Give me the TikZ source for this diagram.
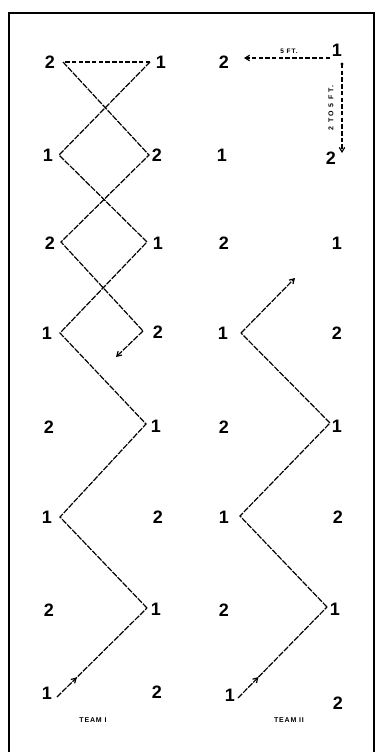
\documentclass[tikz,border=0pt]{standalone}
\usepackage{fontspec}
\setmainfont{Liberation Sans}
\usetikzlibrary{arrows.meta,decorations.markings}
\begin{document}
\begin{tikzpicture}[x=1pt,y=-1pt,
  num/.style={font=\fontsize{18}{18}\selectfont\bfseries,inner sep=0pt},
  run/.style={line width=1.2pt,dash pattern=on 6pt off 1.3pt},
  dash line/.style={line width=1.2pt,dash pattern=on 4.5pt off 2.2pt},
  tip/.style={-{Straight Barb[length=4.5pt,width=5.5pt]}},
  small/.style={font=\fontsize{6.5}{6.5}\selectfont\bfseries\addfontfeature{LetterSpace=15},inner sep=0pt},
  vsmall/.style={font=\fontsize{7}{7}\selectfont\bfseries\addfontfeature{LetterSpace=30},inner sep=0pt},
  teamlbl/.style={font=\fontsize{7}{7}\selectfont\bfseries\addfontfeature{LetterSpace=12},inner sep=0pt},
  midarrow/.style={postaction={decorate},decoration={markings,mark=at position #1 with {\arrow{Straight Barb[length=4.5pt,width=5.5pt]}}}}
]
\useasboundingbox (0,0) rectangle (378,752);
\draw[line width=1.8pt] (9,752) -- (9,13) -- (374,13) -- (374,752);

% Team I numbers
\node[num] (a1l) at (50,62) {2};  \node[num] (a1r) at (161,62) {1};
\node[num] (a2l) at (48,155) {1}; \node[num] (a2r) at (157,155) {2};
\node[num] (a3l) at (50,243) {2}; \node[num] (a3r) at (158,243) {1};
\node[num] (a4l) at (47,333) {1}; \node[num] (a4r) at (158,332) {2};
\node[num] (a5l) at (49,427) {2}; \node[num] (a5r) at (156,426) {1};
\node[num] (a6l) at (47,517) {1}; \node[num] (a6r) at (158,517) {2};
\node[num] (a7l) at (49,610) {2}; \node[num] (a7r) at (156,609) {1};
\node[num] (a8l) at (47,693) {1}; \node[num] (a8r) at (157,692) {2};

% Team II numbers
\node[num] (b1l) at (224,62) {2}; \node[num] (b1r) at (337,50) {1};
\node[num] (b2l) at (222,155) {1}; \node[num] (b2r) at (331,158) {2};
\node[num] (b3l) at (224,243) {2}; \node[num] (b3r) at (337,243) {1};
\node[num] (b4l) at (223,333) {1}; \node[num] (b4r) at (337,333) {2};
\node[num] (b5l) at (224,427) {2}; \node[num] (b5r) at (337,426) {1};
\node[num] (b6l) at (224,517) {1}; \node[num] (b6r) at (338,517) {2};
\node[num] (b7l) at (224,610) {2}; \node[num] (b7r) at (335,609) {1};
\node[num] (b8l) at (230,695) {1}; \node[num] (b8r) at (338,703) {2};

% Team I vertices
\coordinate (p8) at (57,697);
\coordinate (q7) at (147,608);
\coordinate (p6) at (60,517);
\coordinate (q5) at (146,424);
\coordinate (p4) at (60,333);
\coordinate (q3) at (147,242);
\coordinate (p2) at (59,155);
\coordinate (q1) at (150,62);
\coordinate (s1) at (63,62);
\coordinate (r2) at (149,155);
\coordinate (s3) at (61,242);
\coordinate (r4) at (143,331);
\coordinate (e1) at (116,357);

\draw[run,midarrow=0.22] (p8) -- (q7);
\draw[run] (q7) -- (p6) -- (q5) -- (p4) -- (q3) -- (p2) -- (q1);
\draw[dash line] (q1) -- (s1);
\draw[run] (s1) -- (r2) -- (s3) -- (r4);
\draw[run,tip] (r4) -- (e1);

% Team II vertices
\coordinate (u8) at (238,698);
\coordinate (w7) at (327,607);
\coordinate (u6) at (240,516);
\coordinate (w5) at (330,423);
\coordinate (u4) at (241,333);
\coordinate (e2) at (295,278);

\draw[run,midarrow=0.23] (u8) -- (w7);
\draw[run] (w7) -- (u6) -- (w5) -- (u4);
\draw[run,tip] (u4) -- (e2);

% distances
\coordinate (h1) at (330,58);
\coordinate (h2) at (244,58);
\draw[dash line,tip] (h1) -- (h2);
\node[small] (ft5) at (289,51) {5 FT.};
\coordinate (v1) at (342,64);
\coordinate (v2) at (342,153);
\fill (v1) circle (1.6pt);
\draw[dash line,tip] (v1) -- (v2);
\node[vsmall,rotate=90] (ft25) at (331,108) {2 TO 5 FT.};

\node[teamlbl] (t1) at (93,720) {TEAM I};
\node[teamlbl] (t2) at (289,720) {TEAM II};
\end{tikzpicture}
\end{document}
